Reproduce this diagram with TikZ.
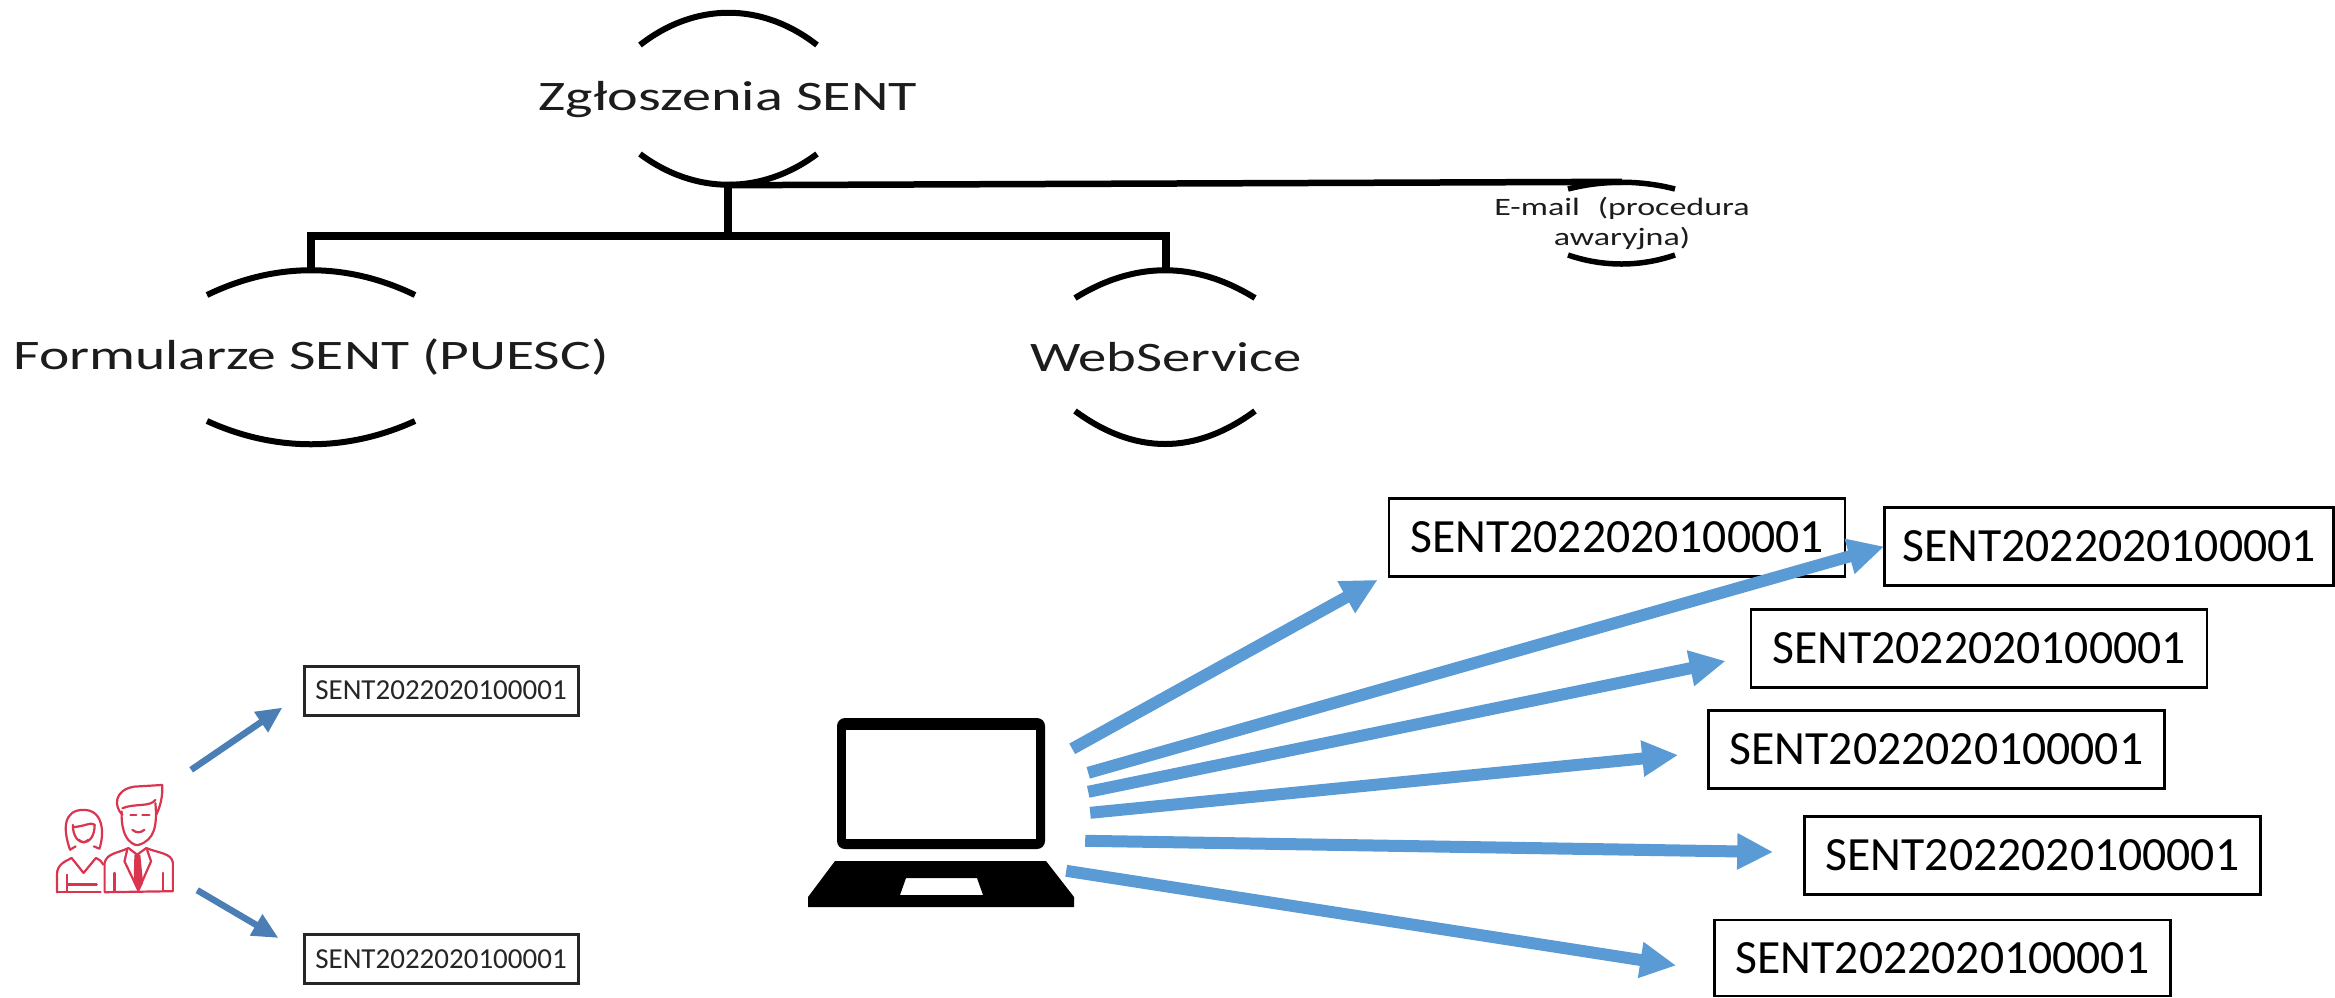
\documentclass[tikz,border=0pt]{standalone}
\usepackage{fontspec}
\usepackage{graphicx}
\setmainfont{Carlito}
\usetikzlibrary{arrows.meta}
\definecolor{bigarrow}{HTML}{5B9BD5}
\definecolor{smallarrow}{HTML}{4A7EB5}
\definecolor{people}{HTML}{D9354F}
\definecolor{ink}{HTML}{1C1C1C}
\tikzset{
  bigbox/.style={draw=black,line width=2.6pt,fill=white,minimum width=456pt,minimum height=78pt,inner sep=0pt,font=\fontsize{47.7}{54}\selectfont},
  smallbox/.style={draw=black!85,line width=3pt,fill=white,minimum width=274pt,minimum height=49pt,inner sep=0pt,text=black!85,font=\fontsize{29}{34}\selectfont},
  bigarr/.style={draw=bigarrow,line width=12pt,-{Triangle[length=36pt,width=34pt,fill=bigarrow]}},
  smallarr/.style={draw=smallarrow,line width=6.5pt,-{Triangle[length=26pt,width=23pt,fill=smallarrow]}},
  conn/.style={draw=black,line width=8pt},
  arcline/.style={draw=black,line width=6pt},
  thinarc/.style={draw=black,line width=5.5pt},
  bigtext/.style={inner sep=0pt,text=ink,font=\fontsize{42}{46}\selectfont},
  mailtext/.style={inner sep=0pt,text=ink,align=center,font=\fontsize{25}{29}\selectfont},
  area/.style={inner sep=0pt,draw=none},
  person/.style={draw=people,line width=2.2pt,line join=round,line cap=round},
}
\begin{document}
\begin{tikzpicture}[x=1pt,y=-1pt]
\useasboundingbox (0,0) rectangle (2335,997);
% tree nodes
\node[bigtext,minimum width=378pt,minimum height=170pt] (zg) at (728,100) {\scalebox{1.385}[1]{Zgłoszenia SENT}};
\node[bigtext,minimum width=596pt,minimum height=174pt] (forms) at (311,357) {\scalebox{1.37}[1]{Formularze SENT (PUESC)}};
\node[bigtext,minimum width=272pt,minimum height=174pt] (web) at (1166,357) {\scalebox{1.35}[1]{WebService}};
\node[mailtext,minimum width=254pt,minimum height=82pt] (mail) at (1622,223) {\scalebox{1.36}[1]{E-mail\hspace{.3em} (procedura}\\[1pt]\scalebox{1.36}[1]{awaryjna)}};
\coordinate (bus) at (728,236);
% arcs
\draw[arcline] (640,45) .. controls (695,2) and (762,2) .. (817,45);
\draw[arcline] (640,154) .. controls (695,195) and (762,195) .. (817,154);
\draw[arcline] (207,295) .. controls (275,262) and (347,262) .. (415,295);
\draw[arcline] (207,421) .. controls (275,452) and (347,452) .. (415,421);
\draw[arcline] (1075,298) .. controls (1135,261) and (1195,261) .. (1255,298);
\draw[arcline] (1075,411) .. controls (1135,455) and (1195,455) .. (1255,411);
\draw[thinarc] (1568,189) .. controls (1603,180) and (1640,180) .. (1675,189);
\draw[thinarc] (1568,255) .. controls (1603,267) and (1640,267) .. (1675,255);
% connectors
\draw[conn] (zg.south) -- (bus);
\draw[conn] (forms.north) |- (bus) -| (web.north);
\draw[conn,line width=6.5pt] (zg.south) -- (mail.north);
% laptop
\node[area,minimum width=266pt,minimum height=189pt] (laptop) at (941,812.5) {};
\fill[black,rounded corners=8pt] (837,718) rectangle (1045,849);
\fill[white] (846,730) rectangle (1036,839);
\fill[black,even odd rule] (835,861) -- (1046,861) -- (1074,897) -- (1074,907) -- (808,907) -- (808,897) -- cycle
  (906,878) -- (977,878) -- (983,895) -- (900,895) -- cycle;
% people icon
\node[area,minimum width=117pt,minimum height=108pt] (team) at (115.5,839) {};
\begin{scope}[shift={(-0.6,683.7)},x=0.397pt,y=-0.332pt,person]
  % woman
  \draw (178,500) .. controls (160,440) and (160,380) .. (212,380) .. controls (262,380) and (265,450) .. (252,497) -- (238,490);
  \draw (185,425) .. controls (185,495) and (240,495) .. (240,425);
  \draw (185,432) .. controls (215,430) and (232,415) .. (240,425);
  \draw (178,500) -- (192,490);
  \draw (145,628) -- (145,575) .. controls (145,545) and (165,535) .. (182,525) -- (212,570) -- (243,525) .. controls (252,530) and (258,535) .. (262,545);
  \draw (145,628) -- (255,628);
  \draw (170,575) -- (170,625);
  \draw (172,605) -- (245,605);
  \draw (200,470) .. controls (208,480) and (216,480) .. (224,470);
  % man
  \draw (310,395) .. controls (288,370) and (288,320) .. (340,310) -- (410,305) .. controls (412,340) and (405,370) .. (395,395);
  \draw (308,385) .. controls (305,480) and (345,490) .. (352,485) .. controls (390,470) and (398,430) .. (393,360);
  \draw (310,375) .. controls (340,360) and (380,372) .. (393,350);
  \draw (330,395) -- (345,395) (360,395) -- (378,395);
  \draw (335,440) .. controls (345,450) and (355,450) .. (365,440);
  \draw (265,628) -- (265,540) .. controls (270,510) and (300,510) .. (325,495) -- (347,515) -- (370,495) .. controls (400,510) and (435,510) .. (437,540) -- (437,625) -- (265,628);
  \draw (322,500) -- (315,535) -- (350,622) -- (382,535) -- (372,500);
  \fill[people] (340,515) -- (355,515) -- (362,600) -- (350,628) -- (338,600) -- cycle;
  \draw (290,570) -- (290,625) (412,570) -- (412,625);
\end{scope}
% boxes
\node[smallbox] (s1) at (441,690.5) {SENT2022020100001};
\node[smallbox] (s2) at (441,959) {SENT2022020100001};
\node[bigbox] (b1) at (1617,537.5) {SENT2022020100001};
\node[bigbox,minimum width=449pt] (b2) at (2109,546.5) {SENT2022020100001};
\node[bigbox] (b3) at (1979,648.5) {SENT2022020100001};
\node[bigbox] (b4) at (1936.5,749.5) {SENT2022020100001};
\node[bigbox] (b5) at (2032.5,855.5) {SENT2022020100001};
\node[bigbox,minimum height=76pt] (b6) at (1942.5,958) {SENT2022020100001};
% arrows
\draw[smallarr] ([shift={(17,-15)}]team.north east) -- ([shift={(-20,-9)}]s1.south west);
\draw[smallarr] ([shift={(23,-3)}]team.south east) -- ([shift={(-24,5)}]s2.north west);
\draw[bigarr] ([shift={(-2,31)}]laptop.north east) -- ([shift={(-10,2)}]b1.south west);
\draw[bigarr] ([shift={(14,55)}]laptop.north east) -- ([shift={(1,0)}]b2.west);
\draw[bigarr] ([shift={(14,74)}]laptop.north east) -- ([shift={(-24,12.5)}]b3.west);
\draw[bigarr] ([shift={(16,95)}]laptop.north east) -- ([shift={(-29,5.5)}]b4.west);
\draw[bigarr] ([shift={(11,123)}]laptop.north east) -- ([shift={(-30,-3.5)}]b5.west);
\draw[bigarr] ([shift={(-8,153)}]laptop.north east) -- ([shift={(-37,7.5)}]b6.west);
\end{tikzpicture}
\end{document}
